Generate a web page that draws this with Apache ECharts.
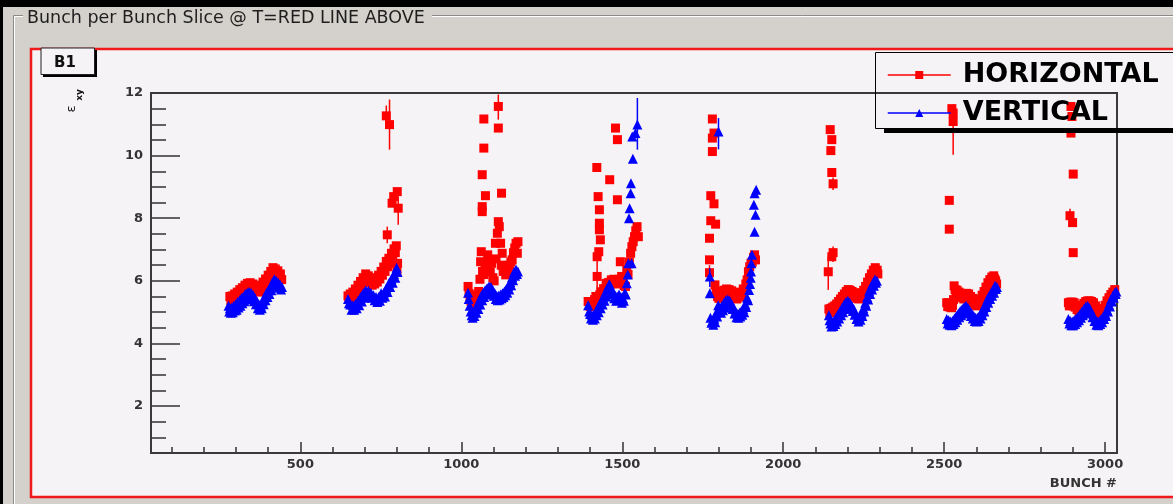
<!DOCTYPE html>
<html>
<head>
<meta charset="utf-8">
<script src="https://cdn.jsdelivr.net/npm/echarts@6/dist/echarts.min.js"></script>
<style>
html,body{margin:0;padding:0;background:#000;}
#c{width:1173px;height:504px;}
</style>
</head>
<body>
<div id="c"></div>
<script>
// ---- tick labels ----
const xMajorTicks = [500, 1000, 1500, 2000, 2500, 3000];
const xMinorTicks = [100,200,300,400,600,700,800,900,1100,1200,1300,1400,1600,1700,1800,1900,2100,2200,2300,2400,2600,2700,2800,2900];
const yMajorTicks = [2, 4, 6, 8, 10, 12];
const yMinorTicks = [1,1.5,2.5,3,3.5,4.5,5,5.5,6.5,7,7.5,8.5,9,9.5,10.5,11,11.5];
const seriesNames = ['HORIZONTAL', 'VERTICAL'];

// ---- HORIZONTAL emittance per train [bunch, value] ----
const H1 = [[281,5.5],[284,5.36],[288,5.52],[292,5.4],[296,5.58],[300,5.44],[304,5.64],[308,5.5],[312,5.72],[316,5.56],[320,5.78],[324,5.64],[328,5.86],[332,5.72],[336,5.92],[340,5.78],[344,5.94],[348,5.78],[352,5.9],[356,5.74],[360,5.86],[364,5.68],[368,5.8],[372,5.64],[376,5.82],[380,5.7],[384,5.96],[388,5.84],[392,6.06],[396,5.92],[400,6.18],[404,6.04],[408,6.3],[412,6.2],[415,6.42],[418,6.28],[422,6.38],[426,6.22],[430,6.32],[434,6.14],[438,6.22],[442,6.04]];
const H2 = [[648,5.52],[651,5.4],[655,5.58],[659,5.46],[663,5.64],[667,5.52],[671,5.74],[675,5.6],[679,5.86],[683,5.72],[687,5.98],[691,5.84],[695,6.1],[699,5.96],[703,6.22],[707,6.08],[711,6.16],[715,5.96],[719,6.04],[723,5.86],[727,6.02],[731,5.9],[735,6.1],[739,5.96],[743,6.18],[747,6.06],[751,6.3],[755,6.18],[759,6.44],[763,6.3],[767,6.62],[771,6.45],[775,6.72],[779,6.56],[783,6.88],[787,6.74],[791,7.02],[795,6.9],[798,7.12],[800,6.3],[802,6.56],[770,7.47],[767,11.27],[777,10.99],[785,8.48],[790,8.69],[801,8.85],[804,8.32]];
const H3 = [[1021,5.82],[1024,5.6],[1027,5.5],[1030,5.35],[1034,5.42],[1038,5.28],[1042,5.35],[1046,5.45],[1050,5.55],[1054,5.66],[1058,6.05],[1060,6.61],[1062,6.93],[1066,6.3],[1070,6.2],[1074,6.5],[1078,6.45],[1082,6.83],[1086,6.6],[1090,6.29],[1094,6.56],[1098,6.1],[1102,6.0],[1106,7.2],[1108,6.7],[1112,7.52],[1115,7.89],[1118,7.73],[1122,7.2],[1124,6.5],[1127,6.88],[1130,6.3],[1134,6.45],[1138,6.19],[1142,6.3],[1146,6.35],[1150,6.5],[1154,6.6],[1158,6.67],[1162,6.9],[1166,7.05],[1170,7.2],[1174,6.88],[1176,7.25],[1065,8.37],[1065,8.21],[1075,8.72],[1065,9.39],[1070,10.24],[1070,11.17],[1125,8.80],[1115,11.57],[1115,10.88]];
const H4 = [[1394,5.34],[1398,5.2],[1402,5.18],[1406,5.3],[1410,5.25],[1414,5.4],[1418,5.5],[1422,6.14],[1422,6.77],[1427,6.93],[1432,7.31],[1429,7.63],[1429,7.84],[1429,8.27],[1425,8.69],[1421,9.62],[1430,5.55],[1434,5.65],[1438,5.6],[1442,5.75],[1446,5.7],[1450,5.92],[1454,5.85],[1458,5.95],[1462,5.88],[1466,6.03],[1470,5.95],[1474,6.05],[1478,5.9],[1482,6.0],[1486,5.92],[1490,6.05],[1494,6.61],[1498,6.14],[1502,6.0],[1506,5.85],[1510,5.82],[1514,6.35],[1518,6.2],[1522,6.6],[1526,6.88],[1530,7.09],[1534,7.25],[1538,7.41],[1542,7.6],[1546,7.73],[1550,7.41],[1461,9.23],[1479,10.88],[1485,10.51],[1485,8.59]];
const H5 = [[1780,11.17],[1780,10.56],[1785,10.72],[1780,10.13],[1775,8.72],[1785,8.46],[1775,7.92],[1790,7.81],[1771,7.36],[1771,6.67],[1771,6.26],[1788,5.87],[1792,5.6],[1796,5.5],[1800,5.44],[1804,5.58],[1808,5.66],[1812,5.48],[1816,5.7],[1820,5.56],[1824,5.74],[1828,5.6],[1832,5.72],[1836,5.56],[1840,5.68],[1844,5.52],[1848,5.62],[1852,5.46],[1856,5.42],[1860,5.56],[1864,5.48],[1868,5.64],[1872,5.56],[1876,5.74],[1880,5.72],[1884,5.9],[1888,6.03],[1892,6.29],[1896,6.45],[1900,6.56],[1904,6.6],[1908,6.75],[1911,6.83],[1914,6.67]];
const H6 = [[2146,10.83],[2151,10.51],[2148,10.16],[2151,9.46],[2155,9.10],[2155,6.90],[2151,6.77],[2140,6.29],[2142,5.1],[2145,4.98],[2148,5.12],[2151,5.0],[2154,5.16],[2157,5.04],[2160,5.2],[2163,5.08],[2166,5.26],[2169,5.14],[2172,5.34],[2175,5.22],[2178,5.42],[2181,5.3],[2184,5.5],[2187,5.38],[2190,5.58],[2193,5.46],[2196,5.66],[2199,5.54],[2202,5.72],[2205,5.6],[2208,5.7],[2211,5.56],[2214,5.66],[2217,5.52],[2220,5.62],[2223,5.48],[2226,5.56],[2229,5.44],[2232,5.54],[2235,5.42],[2238,5.56],[2241,5.46],[2244,5.62],[2247,5.52],[2250,5.7],[2253,5.62],[2256,5.82],[2259,5.74],[2262,5.96],[2265,5.88],[2268,6.1],[2271,6.02],[2274,6.22],[2277,6.14],[2280,6.34],[2283,6.26],[2286,6.42],[2289,6.3],[2292,6.34],[2294,6.22]];
const H7 = [[2528,11.36],[2528,11.09],[2524,11.5],[2516,8.57],[2516,7.65],[2508,5.3],[2511,5.18],[2514,5.3],[2517,5.16],[2520,5.26],[2523,5.14],[2526,5.22],[2529,5.4],[2531,5.84],[2534,5.72],[2537,5.62],[2540,5.7],[2543,5.56],[2546,5.64],[2549,5.5],[2552,5.6],[2555,5.46],[2558,5.56],[2561,5.42],[2564,5.54],[2567,5.44],[2570,5.6],[2573,5.5],[2576,5.58],[2579,5.44],[2582,5.5],[2585,5.36],[2588,5.44],[2591,5.3],[2594,5.36],[2597,5.22],[2600,5.3],[2603,5.2],[2606,5.32],[2609,5.26],[2612,5.42],[2615,5.36],[2618,5.54],[2621,5.48],[2624,5.66],[2627,5.6],[2630,5.8],[2633,5.74],[2636,5.94],[2639,5.88],[2642,6.04],[2645,5.98],[2648,6.12],[2651,6.06],[2654,6.16],[2657,6.06],[2660,6.0],[2663,5.9]];
const H8 = [[2894,11.57],[2897,11.25],[2894,10.72],[2901,9.41],[2891,8.08],[2899,7.86],[2901,6.90],[2886,5.3],[2889,5.2],[2892,5.32],[2895,5.22],[2898,5.32],[2901,5.2],[2904,5.3],[2907,5.16],[2910,5.22],[2913,5.08],[2916,5.14],[2919,5.02],[2922,5.12],[2925,5.04],[2928,5.2],[2931,5.1],[2934,5.28],[2937,5.18],[2940,5.34],[2943,5.24],[2946,5.36],[2949,5.26],[2952,5.36],[2955,5.24],[2958,5.34],[2961,5.22],[2964,5.3],[2967,5.16],[2970,5.2],[2973,5.04],[2976,5.08],[2979,4.94],[2982,5.02],[2985,4.92],[2988,5.06],[2991,4.98],[2994,5.12],[2997,5.06],[3000,5.22],[3003,5.16],[3006,5.36],[3009,5.3],[3012,5.46],[3015,5.42],[3018,5.56],[3021,5.52],[3024,5.64],[3027,5.6],[3030,5.72]];

// ---- VERTICAL emittance per train [bunch, value] ----
const V1 = [[277,5.2],[279,5.02],[281,5.12],[284,4.98],[287,5.15],[290,5.0],[293,5.2],[296,5.05],[299,5.25],[302,5.08],[305,5.32],[308,5.15],[311,5.38],[314,5.2],[317,5.45],[320,5.28],[323,5.5],[326,5.35],[329,5.58],[332,5.4],[335,5.62],[338,5.45],[341,5.65],[344,5.48],[347,5.62],[350,5.42],[353,5.55],[356,5.35],[359,5.45],[362,5.25],[365,5.35],[368,5.12],[371,5.25],[374,5.08],[377,5.2],[380,5.12],[383,5.35],[386,5.25],[389,5.5],[392,5.38],[395,5.62],[398,5.48],[401,5.7],[404,5.58],[407,5.82],[410,5.7],[413,5.95],[416,5.85],[419,6.05],[422,5.9],[425,6.0],[428,5.82],[431,5.95],[434,5.78],[437,5.88],[440,5.72],[443,5.8]];
const V2 = [[648,5.42],[651,5.28],[655,5.24],[659,5.08],[663,5.22],[667,5.08],[671,5.26],[675,5.12],[679,5.36],[683,5.22],[687,5.48],[691,5.34],[695,5.6],[699,5.46],[703,5.7],[707,5.56],[711,5.68],[715,5.52],[719,5.62],[723,5.46],[727,5.54],[731,5.38],[735,5.48],[739,5.32],[743,5.48],[747,5.36],[751,5.6],[755,5.46],[759,5.62],[763,5.5],[767,5.76],[771,5.64],[775,5.92],[779,5.8],[783,6.06],[787,5.94],[791,6.22],[795,6.1],[799,6.42],[802,6.28]];
const V3 = [[1021,5.62],[1023,5.42],[1026,5.2],[1029,5.02],[1032,4.9],[1035,4.82],[1038,4.98],[1041,4.88],[1044,5.1],[1047,4.98],[1050,5.24],[1053,5.1],[1056,5.38],[1059,5.24],[1062,5.52],[1065,5.38],[1068,5.62],[1071,5.48],[1074,5.7],[1077,5.56],[1080,5.76],[1083,5.62],[1086,5.82],[1089,5.68],[1092,5.8],[1095,5.64],[1098,5.7],[1101,5.52],[1104,5.6],[1107,5.42],[1110,5.52],[1113,5.38],[1116,5.52],[1119,5.4],[1122,5.56],[1125,5.44],[1128,5.6],[1131,5.48],[1134,5.66],[1137,5.54],[1140,5.74],[1143,5.62],[1146,5.84],[1149,5.72],[1152,5.96],[1155,5.86],[1158,6.12],[1161,6.02],[1164,6.28],[1167,6.16],[1170,6.36],[1173,6.22],[1176,6.3]];
const V4 = [[1394,5.22],[1397,5.02],[1400,4.94],[1403,4.8],[1406,4.9],[1409,4.76],[1412,4.92],[1415,4.8],[1418,5.02],[1421,4.9],[1424,5.14],[1427,5.0],[1430,5.26],[1433,5.12],[1436,5.38],[1439,5.24],[1442,5.5],[1445,5.36],[1448,5.64],[1451,5.5],[1454,5.78],[1457,5.66],[1460,5.9],[1463,5.74],[1466,5.76],[1469,5.58],[1472,5.62],[1475,5.44],[1478,5.52],[1481,5.36],[1484,5.5],[1487,5.38],[1490,5.56],[1493,5.42],[1496,5.48],[1499,5.3],[1502,5.44],[1505,5.36],[1508,5.62],[1511,5.56],[1514,5.92],[1517,6.2],[1519,6.56],[1529,6.56],[1521,8.00],[1523,8.32],[1526,8.80],[1527,9.12],[1533,9.90],[1531,10.61],[1541,10.72],[1547,10.99]];
const V5 = [[1799,10.77],[1772,6.14],[1772,5.60],[1774,4.82],[1777,4.66],[1780,4.72],[1783,4.6],[1786,4.8],[1789,4.68],[1792,4.98],[1795,4.86],[1798,5.22],[1801,5.04],[1804,5.14],[1807,4.98],[1810,5.2],[1813,5.06],[1816,5.3],[1819,5.14],[1822,5.38],[1825,5.24],[1828,5.4],[1831,5.26],[1834,5.36],[1837,5.2],[1840,5.26],[1843,5.1],[1846,5.14],[1849,4.96],[1852,5.02],[1855,4.84],[1858,4.94],[1861,4.82],[1864,4.98],[1867,4.86],[1870,5.04],[1873,4.92],[1876,5.1],[1879,5.0],[1882,5.26],[1885,5.16],[1888,5.46],[1891,5.38],[1894,5.71],[1897,5.9],[1899,6.1],[1900,6.3],[1901,6.56],[1903,6.83],[1911,7.57],[1914,8.11],[1909,8.43],[1911,8.80],[1916,8.91]];
const V6 = [[2142,4.9],[2144,4.74],[2147,4.64],[2150,4.54],[2153,4.66],[2156,4.56],[2159,4.74],[2162,4.62],[2165,4.84],[2168,4.7],[2171,4.94],[2174,4.8],[2177,5.04],[2180,4.9],[2183,5.14],[2186,5.0],[2189,5.24],[2192,5.1],[2195,5.32],[2198,5.18],[2201,5.36],[2204,5.22],[2207,5.3],[2210,5.14],[2213,5.2],[2216,5.04],[2219,5.1],[2222,4.92],[2225,4.96],[2228,4.78],[2231,4.82],[2234,4.7],[2237,4.86],[2240,4.76],[2243,4.98],[2246,4.88],[2249,5.12],[2252,5.02],[2255,5.3],[2258,5.2],[2261,5.48],[2264,5.4],[2267,5.68],[2270,5.58],[2273,5.82],[2276,5.72],[2279,5.94],[2282,5.84],[2285,6.04],[2288,5.94],[2291,6.0]];
const V7 = [[2508,4.78],[2511,4.64],[2514,4.74],[2517,4.6],[2520,4.7],[2523,4.58],[2526,4.72],[2529,4.62],[2532,4.8],[2535,4.68],[2538,4.88],[2541,4.76],[2544,4.96],[2547,4.84],[2550,5.04],[2553,4.9],[2556,5.1],[2559,4.96],[2562,5.16],[2565,5.02],[2568,5.2],[2571,5.06],[2574,5.14],[2577,4.98],[2580,5.04],[2583,4.88],[2586,4.96],[2589,4.8],[2592,4.88],[2595,4.72],[2598,4.82],[2601,4.7],[2604,4.82],[2607,4.72],[2610,4.9],[2613,4.8],[2616,5.0],[2619,4.9],[2622,5.12],[2625,5.02],[2628,5.26],[2631,5.16],[2634,5.4],[2637,5.3],[2640,5.52],[2643,5.42],[2646,5.62],[2649,5.52],[2652,5.72],[2655,5.62],[2658,5.84],[2661,5.74],[2664,5.8]];
const V8 = [[2886,4.78],[2889,4.64],[2892,4.72],[2895,4.58],[2898,4.7],[2901,4.58],[2904,4.74],[2907,4.62],[2910,4.8],[2913,4.68],[2916,4.86],[2919,4.74],[2922,4.94],[2925,4.82],[2928,5.02],[2931,4.9],[2934,5.1],[2937,4.98],[2940,5.18],[2943,5.04],[2946,5.2],[2949,5.06],[2952,5.12],[2955,4.96],[2958,5.0],[2961,4.84],[2964,4.88],[2967,4.72],[2970,4.76],[2973,4.6],[2976,4.7],[2979,4.58],[2982,4.72],[2985,4.62],[2988,4.78],[2991,4.68],[2994,4.86],[2997,4.78],[3000,4.96],[3003,4.88],[3006,5.08],[3009,5.02],[3012,5.24],[3015,5.18],[3018,5.4],[3021,5.34],[3024,5.52],[3027,5.46],[3030,5.62],[3033,5.58],[3035,5.66]];

// ---- visible error bars [bunch, low, high] ----
const hErrors = [[767,11.05,11.6],[777,10.19,11.79],[804,7.79,8.7],[770,7.2,7.73],[1115,11.15,11.95],[1422,5.5,6.77],[1771,6.0,6.5],[2140,5.71,6.77],[2155,6.6,7.1],[2155,8.9,9.3],[2528,10.03,11.63],[2891,7.9,8.3]];
const vErrors = [[1547,10.19,11.84],[1799,10.2,11.2],[1772,5.8,6.4]];

const horizontal = [].concat(H1,H2,H3,H4,H5,H6,H7,H8);
const vertical = [].concat(V1,V2,V3,V4,V5,V6,V7,V8);

const FONT = 'DejaVu Sans';
const RED = '#ff0000', BLUE = '#0000ff';
const CANVAS_BG = '#f6f3f6', GUI_BG = '#d4d1cc';

const chart = echarts.init(document.getElementById('c'), null, {renderer: 'canvas'});

function errRender(color) {
  return function (params, api) {
    const p1 = api.coord([api.value(0), api.value(1)]);
    const p2 = api.coord([api.value(0), api.value(2)]);
    return {type: 'line', shape: {x1: p1[0], y1: p1[1], x2: p2[0], y2: p2[1]},
      style: {stroke: color, lineWidth: 1.5}};
  };
}

const xBase = {type: 'value', min: 36, max: 3037, splitLine: {show: false}, axisLine: {show: false}};
const yBase = {type: 'value', min: 0.5, max: 12, splitLine: {show: false}, axisLine: {show: false}};
const labelStyle = {fontFamily: FONT, fontWeight: 'bold', fontSize: 13, color: '#333', formatter: function (v) { return String(v); }};

chart.setOption({
  animation: false,
  backgroundColor: '#000',
  grid: {left: 151, top: 93, width: 966, height: 360, show: true, borderColor: '#3a3a3a', borderWidth: 2, backgroundColor: 'transparent', z: 3},
  xAxis: [
    Object.assign({}, xBase, {
      axisTick: {inside: true, length: 11, customValues: xMajorTicks, lineStyle: {color: '#333', width: 1.5}},
      axisLabel: Object.assign({customValues: xMajorTicks, margin: 5}, labelStyle)
    }),
    Object.assign({}, xBase, {position: 'bottom',
      axisTick: {inside: true, length: 6, customValues: xMinorTicks, lineStyle: {color: '#333', width: 1.5}},
      axisLabel: {show: false}
    })
  ],
  yAxis: [
    Object.assign({}, yBase, {
      axisTick: {inside: true, length: 29, customValues: yMajorTicks, lineStyle: {color: '#333', width: 1.5}},
      axisLabel: Object.assign({customValues: yMajorTicks, margin: 8}, labelStyle)
    }),
    Object.assign({}, yBase, {position: 'left',
      axisTick: {inside: true, length: 15, customValues: yMinorTicks, lineStyle: {color: '#333', width: 1.5}},
      axisLabel: {show: false}
    })
  ],
  legend: {
    orient: 'vertical', left: 882, top: 55, itemWidth: 63, itemHeight: 10, itemGap: 8,
    data: seriesNames,
    lineStyle: {width: 1.5, opacity: 1},
    textStyle: {fontFamily: FONT, fontWeight: 'bold', fontSize: 27, color: '#000', lineHeight: 30, padding: [0, 0, 0, 7]},
    selectedMode: false, z: 20
  },
  series: [
    {name: seriesNames[0], type: 'line', data: horizontal, symbol: 'rect', symbolSize: 9, showSymbol: true,
      itemStyle: {color: RED}, lineStyle: {color: RED, opacity: 0, width: 0}, z: 4, silent: true},
    {name: 'hErr', type: 'custom', data: hErrors, renderItem: errRender(RED), encode: {x: 0, y: [1, 2]}, z: 4, silent: true},
    {name: seriesNames[1], type: 'line', data: vertical, symbol: 'triangle', symbolSize: 10, showSymbol: true,
      itemStyle: {color: BLUE}, lineStyle: {color: BLUE, opacity: 0, width: 0}, z: 5, silent: true},
    {name: 'vErr', type: 'custom', data: vErrors, renderItem: errRender(BLUE), encode: {x: 0, y: [1, 2]}, z: 5, silent: true}
  ],
  graphic: [
    {type: 'rect', z: -100, shape: {x: 3, y: 7, width: 1170, height: 497}, style: {fill: GUI_BG}},
    // etched group box
    {type: 'polyline', z: -99, shape: {points: [[13.5, 504], [13.5, 15.5], [23, 15.5]]}, style: {stroke: '#8a8a8a', lineWidth: 1, fill: null}},
    {type: 'polyline', z: -99, shape: {points: [[14.5, 504], [14.5, 16.5], [23, 16.5]]}, style: {stroke: '#ffffff', lineWidth: 1, fill: null}},
    {type: 'line', z: -99, shape: {x1: 432, y1: 15.5, x2: 1173, y2: 15.5}, style: {stroke: '#8a8a8a', lineWidth: 1}},
    {type: 'line', z: -99, shape: {x1: 432, y1: 16.5, x2: 1173, y2: 16.5}, style: {stroke: '#ffffff', lineWidth: 1}},
    {type: 'text', z: -98, style: {text: 'Bunch per Bunch Slice @ T=RED LINE ABOVE', x: 27, y: 18, verticalAlign: 'middle', fill: '#1e1e1e', font: '17.5px "DejaVu Sans"'}},
    // canvas
    {type: 'rect', z: -97, shape: {x: 31, y: 49, width: 1160, height: 448}, style: {fill: CANVAS_BG, stroke: '#f01a1a', lineWidth: 2.5}},
    // B1 box
    {type: 'rect', z: -90, shape: {x: 43, y: 50, width: 54, height: 27}, style: {fill: '#000'}},
    {type: 'rect', z: -89, shape: {x: 41, y: 48, width: 53.5, height: 26.5}, style: {fill: CANVAS_BG, stroke: '#222', lineWidth: 1}},
    {type: 'text', z: -88, style: {text: 'B1', x: 65, y: 63, align: 'center', verticalAlign: 'middle', fill: '#111', font: 'bold 15px "DejaVu Sans"'}},
    // y axis title (epsilon_xy), rotated
    {type: 'text', z: 10, x: 72, y: 109, rotation: Math.PI / 2, style: {text: 'ε', align: 'center', verticalAlign: 'middle', fill: '#111', font: '13px "DejaVu Sans"'}},
    {type: 'text', z: 10, x: 80, y: 95, rotation: Math.PI / 2, style: {text: 'xy', align: 'center', verticalAlign: 'middle', fill: '#111', font: 'bold 9px "DejaVu Sans"'}},
    // x axis title
    {type: 'text', z: 10, style: {text: 'BUNCH #', x: 1117, y: 484, align: 'right', verticalAlign: 'middle', fill: '#333', font: 'bold 13px "DejaVu Sans"'}},
    // legend frame + shadow
    {type: 'rect', z: 15, shape: {x: 884, y: 128.5, width: 300, height: 4.5}, style: {fill: '#000'}},
    {type: 'rect', z: 15, shape: {x: 875.5, y: 52.5, width: 320, height: 76}, style: {fill: null, stroke: '#000', lineWidth: 1}}
  ]
});
</script>
</body>
</html>
